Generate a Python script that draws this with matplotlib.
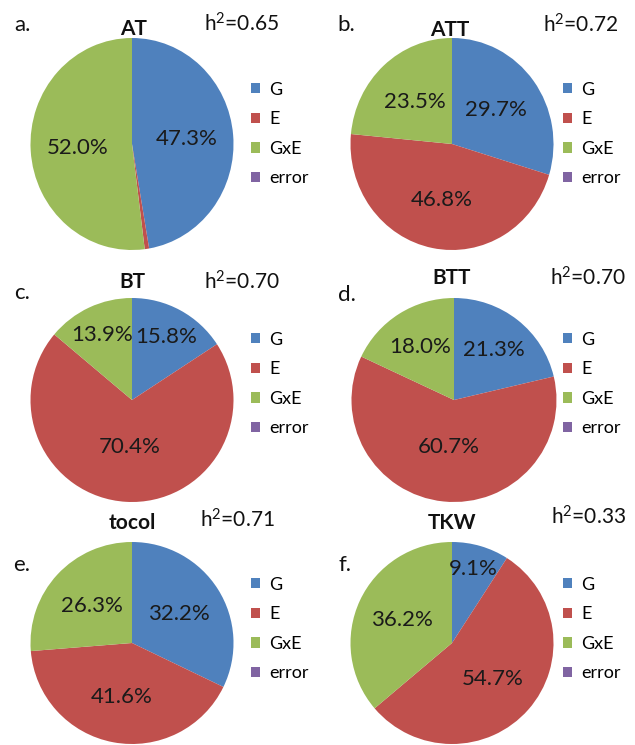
import numpy as np
import matplotlib
matplotlib.use('Agg')
import matplotlib.pyplot as plt

plt.rcParams['font.family'] = ['Lato', 'DejaVu Sans']
plt.rcParams['mathtext.fontset'] = 'custom'
plt.rcParams['mathtext.rm'] = 'Lato'
plt.rcParams['mathtext.it'] = 'Lato'

components = ['G', 'E', 'GxE', 'error']
colors = ['#4F81BD', '#C0504D', '#9BBB59', '#8064A2']

traits = ['AT', 'ATT', 'BT', 'BTT', 'tocol', 'TKW']
letters = ['a.', 'b.', 'c.', 'd.', 'e.', 'f.']
heritability = ['0.65', '0.72', '0.70', '0.70', '0.71', '0.33']

# share of variance (%) for G, E, GxE, error
at = [47.3, 0.7, 52.0, 0.0]
att = [29.7, 46.8, 23.5, 0.0]
bt = [15.8, 70.4, 13.9, 0.0]
btt = [21.3, 60.7, 18.0, 0.0]
tocol = [32.2, 41.6, 26.3, 0.0]
tkw = [9.1, 54.7, 36.2, 0.0]
shares = [at, att, bt, btt, tocol, tkw]

W, H = 635, 745
fig = plt.figure(figsize=(W / 100, H / 100), dpi=100)

# pixel layout of each panel
pie_box = [(132, 144, 203, 212), (452, 144, 203, 212),
           (132, 400, 203, 204), (454, 400, 205, 204),
           (132, 643, 203, 202), (452, 643, 203, 202)]
legend_pos = [(251, 134), (563, 134), (251, 384), (563, 384), (251, 629), (563, 629)]
title_pos = [(134, 29), (450, 30), (132, 282), (452, 278), (132, 523), (452, 523)]
letter_pos = [(22, 25), (346, 25), (22, 293), (347, 295), (22, 565), (345, 565)]
h2_pos = [(241, 24), (581, 25), (242, 282), (588, 278), (237, 520), (589, 517)]


def label_dist(v):
    # narrow slices get their label pushed outwards
    if v < 10:
        return 0.76
    if v < 17:
        return 0.7
    if v < 22:
        return 0.62
    if v < 55:
        return 0.54
    return 0.46


def fx(x):
    return x / W


def fy(y):
    return 1 - y / H


for i, vals in enumerate(shares):
    cx, cy, w, h = pie_box[i]
    ax = fig.add_axes([fx(cx - w / 2), fy(cy + h / 2), w / W, h / H])
    wedges, _ = ax.pie(vals, colors=colors, startangle=90, counterclock=False,
                       wedgeprops=dict(linewidth=0))
    ax.set_aspect('auto')
    ax.set_xlim(-1, 1)
    ax.set_ylim(-1, 1)
    ax.axis('off')

    for wd, v in zip(wedges, vals):
        if v < 5:
            continue
        ang = np.deg2rad((wd.theta1 + wd.theta2) / 2)
        d = label_dist(v)
        ax.text(d * np.cos(ang), d * np.sin(ang), f'{v:.1f}%',
                ha='center', va='center', fontsize=16, color='#1a1a1a')

    lx, ly = legend_pos[i]
    ax.legend(wedges, components, loc='center left',
              bbox_to_anchor=(fx(lx), fy(ly)), bbox_transform=fig.transFigure,
              frameon=False, fontsize=13, handlelength=0.5, handleheight=0.5,
              handletextpad=0.5, labelspacing=0.75, borderaxespad=0, borderpad=0)

    tx, ty = title_pos[i]
    fig.text(fx(tx), fy(ty), traits[i], ha='center', va='center',
             fontsize=15, fontweight='bold', color='#111111')
    lx, ly = letter_pos[i]
    fig.text(fx(lx), fy(ly), letters[i], ha='center', va='center',
             fontsize=16, color='#111111')
    hx, hy = h2_pos[i]
    fig.text(fx(hx), fy(hy), 'h$^{2}$=' + heritability[i], ha='center', va='center',
             fontsize=15, color='#111111')

fig.savefig('out.png', dpi=100, facecolor='white')
